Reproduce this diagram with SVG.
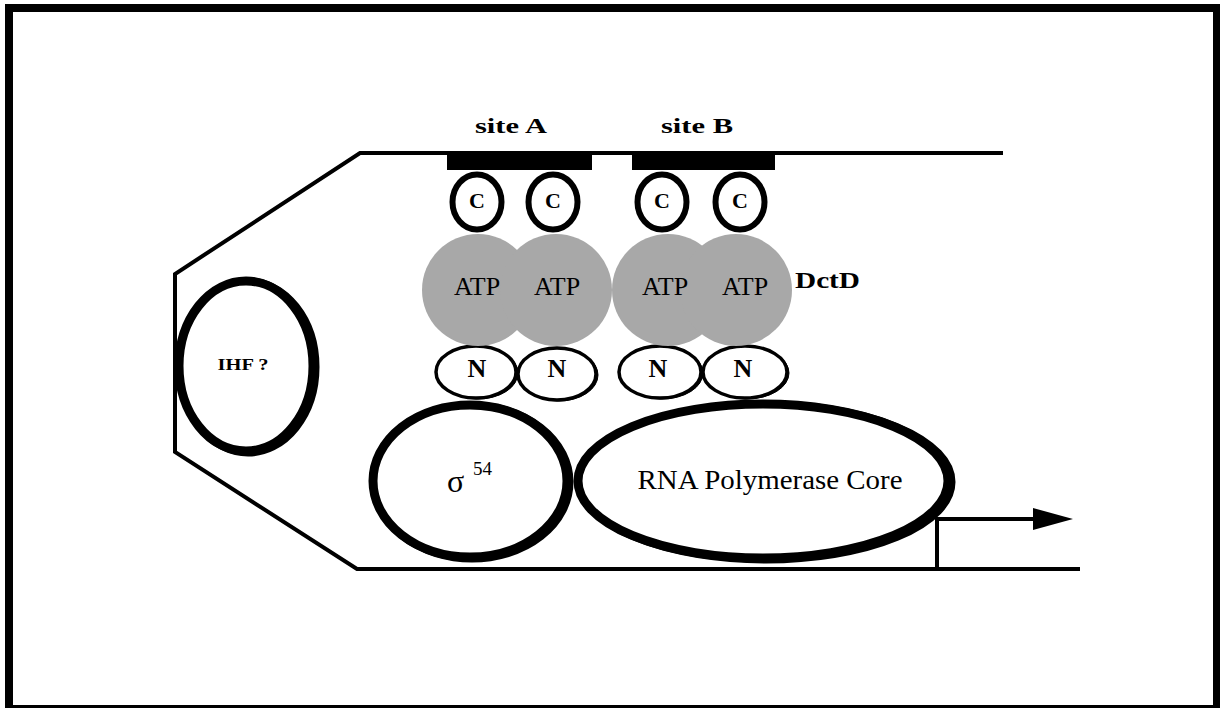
<svg xmlns="http://www.w3.org/2000/svg" width="1220" height="708" viewBox="0 0 1220 708">
  <style>
    .line { fill: none; stroke: #000; stroke-width: 4; stroke-linejoin: miter; }
    .cdom { fill: #fff; stroke: #000; stroke-width: 6; }
    .ndom { fill: #fff; stroke: #000; stroke-width: 3.5; }
    .shade { fill: #000; stroke: #000; }
    .atp { fill: #a8a8a8; }
    .big { fill: #fff; stroke: #000; stroke-width: 9; }
    .serif { font-family: "Liberation Serif", "Times New Roman", serif; fill: #000; }
    .bold { font-weight: bold; }
  </style>

  <rect width="1220" height="708" fill="#fff"/>
  <!-- frame -->
  <rect x="9" y="8" width="1208" height="701" fill="none" stroke="#000" stroke-width="8"/>

  <!-- DNA loop and promoter -->
  <g id="connectors">
    <path class="line" d="M1003,153 L360,153 L175,274 L175,452 L357,569 L1080,569"/>
    <path class="line" d="M937,569 L937,519 L1040,519"/>
    <path d="M1033,508 L1073,519 L1033,530 z" fill="#000"/>
  </g>

  <!-- binding sites -->
  <g id="siteA">
    <rect x="447" y="152" width="145" height="18" fill="#000"/>
    <text class="serif bold" x="511" y="133" font-size="22" text-anchor="middle" textLength="72" lengthAdjust="spacingAndGlyphs">site A</text>
  </g>
  <g id="siteB">
    <rect x="632" y="152" width="143" height="18" fill="#000"/>
    <text class="serif bold" x="697" y="133" font-size="22" text-anchor="middle" textLength="72" lengthAdjust="spacingAndGlyphs">site B</text>
  </g>

  <!-- C-terminal domains -->
  <g id="c1"><ellipse class="cdom" cx="477" cy="202" rx="24.5" ry="27.5"/><text class="serif bold" x="477" y="208" font-size="22" text-anchor="middle">C</text></g>
  <g id="c2"><ellipse class="cdom" cx="553" cy="202" rx="24.5" ry="27.5"/><text class="serif bold" x="553" y="208" font-size="22" text-anchor="middle">C</text></g>
  <g id="c3"><ellipse class="cdom" cx="662" cy="202" rx="24.5" ry="27.5"/><text class="serif bold" x="662" y="208" font-size="22" text-anchor="middle">C</text></g>
  <g id="c4"><ellipse class="cdom" cx="740" cy="202" rx="24.5" ry="27.5"/><text class="serif bold" x="740" y="208" font-size="22" text-anchor="middle">C</text></g>

  <!-- N-terminal domains (offset dark copy gives the heavier lower-right rim) -->
  <g id="n1"><ellipse class="shade" cx="478" cy="373" rx="40" ry="26"/><ellipse class="ndom" cx="476" cy="372" rx="40" ry="26"/><text class="serif bold" x="477" y="377" font-size="26" text-anchor="middle">N</text></g>
  <g id="n2"><ellipse class="shade" cx="559" cy="375" rx="39" ry="26"/><ellipse class="ndom" cx="557" cy="374" rx="39" ry="26"/><text class="serif bold" x="557" y="377" font-size="26" text-anchor="middle">N</text></g>
  <g id="n3"><ellipse class="shade" cx="662" cy="373" rx="41" ry="26"/><ellipse class="ndom" cx="660" cy="372" rx="41" ry="26"/><text class="serif bold" x="658" y="377" font-size="26" text-anchor="middle">N</text></g>
  <g id="n4"><ellipse class="shade" cx="747" cy="373" rx="42" ry="26"/><ellipse class="ndom" cx="745" cy="372" rx="42" ry="26"/><text class="serif bold" x="743" y="377" font-size="26" text-anchor="middle">N</text></g>

  <!-- central ATP-binding domains -->
  <g id="atp1"><circle class="atp" cx="478" cy="290" r="56"/></g>
  <g id="atp2"><circle class="atp" cx="556" cy="290" r="56"/></g>
  <g id="atp3"><circle class="atp" cx="668" cy="290" r="56"/></g>
  <g id="atp4"><circle class="atp" cx="736" cy="290" r="56"/></g>
  <g id="atp-labels">
    <text class="serif" x="477" y="295" font-size="26" text-anchor="middle">ATP</text>
    <text class="serif" x="557" y="295" font-size="26" text-anchor="middle">ATP</text>
    <text class="serif" x="665" y="295" font-size="26" text-anchor="middle">ATP</text>
    <text class="serif" x="745" y="295" font-size="26" text-anchor="middle">ATP</text>
  </g>
  <g id="dctd">
    <text class="serif bold" x="795" y="288" font-size="23" textLength="65" lengthAdjust="spacingAndGlyphs">DctD</text>
  </g>

  <!-- IHF -->
  <g id="ihf">
    <ellipse class="big" cx="248" cy="367" rx="67" ry="85"/>
    <ellipse class="big" cx="246" cy="366" rx="67" ry="85" stroke-width="8"/>
    <text class="serif bold" x="243" y="370" font-size="17" text-anchor="middle" textLength="51" lengthAdjust="spacingAndGlyphs">IHF ?</text>
  </g>

  <!-- sigma 54 -->
  <g id="sigma54">
    <ellipse class="big" cx="472" cy="482" rx="97" ry="76"/>
    <ellipse class="big" cx="470" cy="481" rx="97" ry="76"/>
    <text class="serif" x="447" y="492" font-size="32">σ</text>
    <text class="serif" x="473" y="475" font-size="19">54</text>
  </g>

  <!-- core polymerase -->
  <g id="rnap">
    <ellipse class="big" cx="766" cy="482" rx="185" ry="77"/>
    <ellipse class="big" cx="763" cy="481" rx="185" ry="77"/>
    <text class="serif" x="770" y="489" font-size="27" text-anchor="middle" textLength="265" lengthAdjust="spacingAndGlyphs">RNA Polymerase Core</text>
  </g>
</svg>
